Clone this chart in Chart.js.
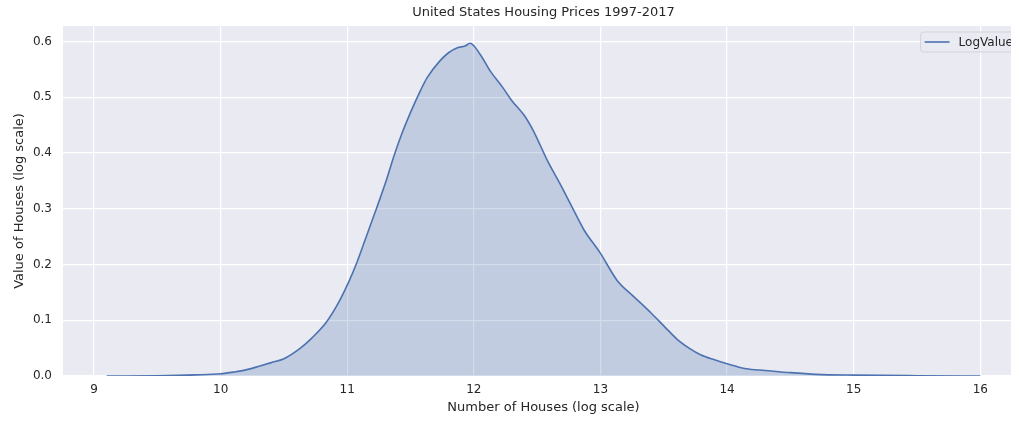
<!DOCTYPE html>
<html>
<head>
<meta charset="utf-8">
<title>United States Housing Prices 1997-2017</title>
<script src="https://cdn.jsdelivr.net/npm/chart.js@4/dist/chart.umd.min.js"></script>
<style>
  html, body { margin: 0; padding: 0; background: #ffffff; overflow: hidden; }
  #wrap { width: 1024px; height: 421px; }
</style>
</head>
<body>
<div id="wrap"><canvas id="kdeChart" width="1024" height="421"></canvas></div>
<script>
// KDE of log house values
const logValues = [
  9.1, 9.5, 9.8, 10.0, 10.1, 10.2, 10.31, 10.4, 10.5, 10.63, 10.72, 10.83, 10.92,
  11.01, 11.08, 11.15, 11.23, 11.31, 11.365, 11.42, 11.5, 11.58, 11.63, 11.73, 11.8,
  11.87, 11.93, 11.97, 12.05, 12.13, 12.23, 12.3, 12.4, 12.47, 12.58, 12.68, 12.83,
  12.87, 13.0, 13.13, 13.25, 13.35, 13.4, 13.5, 13.61, 13.7, 13.79, 13.9, 14.0, 14.15,
  14.3, 14.5, 14.7, 15.0, 15.5, 16.0
];
const density = [
  0.0, 0.0005, 0.002, 0.004, 0.007, 0.011, 0.018, 0.024, 0.031, 0.05, 0.068, 0.095, 0.127,
  0.168, 0.206, 0.25, 0.3, 0.352, 0.392, 0.428, 0.473, 0.513, 0.535, 0.565, 0.58,
  0.589, 0.592, 0.597, 0.577, 0.547, 0.517, 0.494, 0.467, 0.44, 0.387, 0.345, 0.279,
  0.262, 0.22, 0.172, 0.145, 0.124, 0.113, 0.09, 0.065, 0.05, 0.038, 0.029, 0.022, 0.013,
  0.01, 0.006, 0.003, 0.0015, 0.0005, 0.0
];
const xTickValues = [9, 10, 11, 12, 13, 14, 15, 16];
const yTickValues = [0.0, 0.1, 0.2, 0.3, 0.4, 0.5, 0.6];
const seriesLabel = "LogValue";

const textColor = "#262626";
const fontFamily = "'DejaVu Sans', sans-serif";

// seaborn darkgrid background
const bgPlugin = {
  id: "bgPlugin",
  beforeDraw(chart) {
    const { ctx, chartArea: a } = chart;
    ctx.save();
    ctx.fillStyle = "#ffffff";
    ctx.fillRect(0, 0, chart.width, chart.height);
    ctx.fillStyle = "#EAEAF2";
    ctx.fillRect(a.left, a.top, a.right - a.left, a.bottom - a.top);
    ctx.restore();
  },
};

// legend box inside the plot, upper right
const insideLegend = {
  id: "insideLegend",
  afterDraw(chart) {
    const { ctx, chartArea: a } = chart;
    const ds = chart.data.datasets[0];
    ctx.save();
    ctx.font = "12px " + fontFamily;
    const tw = ctx.measureText(ds.label).width;
    const w = 4 + 25 + 9 + tw + 5;
    const h = 20;
    const x = a.right - 6 - w;
    const y = a.top + 6;
    ctx.beginPath();
    ctx.roundRect(x, y, w, h, 3);
    ctx.fillStyle = "rgba(234,234,242,0.8)";
    ctx.fill();
    ctx.strokeStyle = "#d3d3da";
    ctx.lineWidth = 1;
    ctx.stroke();
    ctx.beginPath();
    ctx.moveTo(x + 4, y + h / 2);
    ctx.lineTo(x + 29, y + h / 2);
    ctx.strokeStyle = ds.borderColor;
    ctx.lineWidth = 1.6;
    ctx.stroke();
    ctx.fillStyle = textColor;
    ctx.textBaseline = "middle";
    ctx.fillText(ds.label, x + 38, y + h / 2 + 0.5);
    ctx.restore();
  },
};

const ctx = document.getElementById("kdeChart").getContext("2d");
new Chart(ctx, {
  type: "line",
  data: {
    datasets: [
      {
        label: seriesLabel,
        data: logValues.map((v, i) => ({ x: v, y: density[i] })),
        borderColor: "#4C72B0",
        backgroundColor: "rgba(76,114,176,0.25)",
        borderWidth: 1.6,
        fill: "origin",
        pointRadius: 0,
        cubicInterpolationMode: "monotone",
      },
    ],
  },
  options: {
    responsive: false,
    animation: false,
    layout: { padding: 0 },
    plugins: {
      legend: { display: false },
      tooltip: { enabled: false },
      title: {
        display: true,
        text: "United States Housing Prices 1997-2017",
        color: textColor,
        fullSize: false,
        font: { family: fontFamily, size: 13, weight: "normal" },
        padding: { top: 5, bottom: 5.4 },
      },
    },
    scales: {
      x: {
        type: "linear",
        min: 8.755,
        max: 16.345,
        afterBuildTicks: (s) => { s.ticks = xTickValues.map((v) => ({ value: v })); },
        afterFit: (s) => { s.height = 45; },
        grid: { color: "#ffffff", lineWidth: 1.2, drawTicks: false },
        border: { display: false },
        ticks: {
          color: textColor,
          padding: 7,
          font: { family: fontFamily, size: 12 },
          callback: (v) => String(v),
        },
        title: {
          display: true,
          text: "Number of Houses (log scale)",
          color: textColor,
          font: { family: fontFamily, size: 13 },
          padding: { top: 0, bottom: 6 },
        },
      },
      y: {
        type: "linear",
        min: 0,
        max: 0.628,
        afterBuildTicks: (s) => { s.ticks = yTickValues.map((v) => ({ value: v })); },
        afterFit: (s) => { s.width = 63; },
        grid: { color: "#ffffff", lineWidth: 1.2, drawTicks: false },
        border: { display: false },
        ticks: {
          color: textColor,
          padding: 11,
          font: { family: fontFamily, size: 12 },
          callback: (v) => Number(v).toFixed(1),
        },
        title: {
          display: true,
          text: "Value of Houses (log scale)",
          color: textColor,
          font: { family: fontFamily, size: 13 },
          padding: { top: 12, bottom: 0 },
        },
      },
    },
  },
  plugins: [bgPlugin, insideLegend],
});
</script>
</body>
</html>
